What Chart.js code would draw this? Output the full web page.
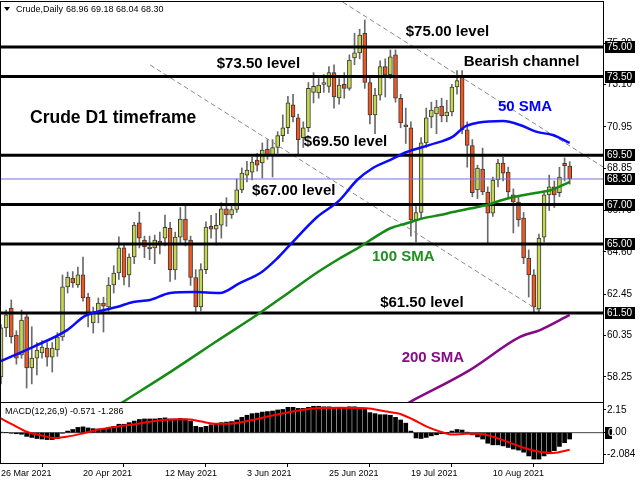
<!DOCTYPE html>
<html>
<head>
<meta charset="utf-8">
<title>Crude, Daily</title>
<script src="https://cdn.jsdelivr.net/npm/chart.js@4.4.0/dist/chart.umd.min.js"></script>
<style>
    html, body { margin: 0; padding: 0; background: #fff; }
    #wrap { position: relative; width: 640px; height: 480px; overflow: hidden; }
    canvas { position: absolute; left: 0; }
    #main { top: 0; }
    #macd { top: 402px; }
</style>
</head>
<body>
<div id="wrap">
    <canvas id="main" width="640" height="403"></canvas>
    <canvas id="macd" width="640" height="78"></canvas>
</div>
<script>
// Bougies journalières (ouverture, plus haut, plus bas, clôture)
const opens = [58.25, 60.74, 61.75, 60.38, 59.37, 61.30, 58.71, 59.21, 59.47, 59.72,
    59.26, 59.62, 60.28, 62.82, 63.27, 62.92, 63.43, 62.31, 60.99, 61.55,
    62.00, 61.80, 62.92, 63.53, 64.80, 63.43, 64.34, 66.07, 65.20, 64.85,
    64.80, 65.15, 65.30, 65.80, 63.68, 65.35, 66.27, 65.20, 63.30, 61.80,
    63.70, 65.90, 65.75, 65.95, 66.78, 66.47, 66.75, 67.75, 68.50, 68.65,
    69.26, 69.11, 69.80, 69.50, 69.90, 70.50, 70.90, 72.06, 71.40, 70.40,
    70.90, 72.70, 72.67, 73.10, 73.00, 73.70, 72.41, 73.10, 72.90, 74.45,
    74.70, 75.70, 73.20, 71.55, 72.56, 74.00, 73.60, 74.60, 72.40, 71.05,
    70.90, 66.22, 66.60, 70.13, 71.45, 71.60, 72.00, 71.50, 71.70, 72.97,
    73.45, 70.80, 70.00, 67.74, 68.80, 67.64, 66.57, 68.25, 69.11, 68.65,
    67.50, 67.13, 66.32, 64.29, 63.43, 61.70, 65.35, 67.49, 67.90, 67.60,
    69.10, 68.96];
const highs = [60.90, 61.65, 62.16, 60.60, 61.65, 61.50, 60.80, 60.00, 60.10, 60.00,
    60.00, 60.50, 63.43, 63.58, 63.60, 63.83, 64.34, 62.50, 61.80, 62.26,
    62.30, 63.30, 63.90, 65.36, 65.00, 64.50, 66.10, 66.62, 65.40, 65.40,
    65.45, 65.60, 66.47, 66.10, 65.60, 66.85, 67.00, 65.40, 63.70, 64.00,
    66.12, 66.45, 66.55, 67.10, 67.35, 67.00, 68.30, 68.86, 69.20, 69.40,
    69.60, 70.13, 70.30, 70.30, 70.70, 71.55, 72.50, 72.60, 71.60, 71.20,
    73.20, 73.70, 73.40, 73.60, 74.00, 74.09, 73.40, 73.70, 74.60, 75.70,
    75.90, 76.37, 73.50, 72.90, 74.30, 74.40, 74.85, 74.85, 72.60, 71.90,
    71.20, 67.00, 70.40, 71.90, 72.20, 72.30, 72.40, 72.30, 73.10, 73.80,
    73.80, 71.20, 70.30, 69.00, 69.87, 67.90, 68.40, 69.30, 69.40, 68.90,
    67.80, 67.40, 66.60, 64.70, 63.70, 65.50, 67.60, 68.50, 68.20, 68.90,
    69.37, 69.18];
const lows = [57.90, 60.30, 59.97, 58.90, 59.20, 57.69, 57.90, 58.35, 59.20, 58.80,
    58.50, 59.30, 60.10, 62.51, 62.80, 62.80, 62.10, 60.79, 60.48, 61.00,
    60.53, 61.60, 62.51, 63.20, 62.92, 62.82, 64.00, 64.80, 64.30, 64.20,
    64.00, 64.50, 64.90, 63.10, 63.20, 65.00, 64.90, 62.90, 61.45, 61.60,
    63.50, 65.30, 64.95, 65.30, 65.90, 66.30, 66.60, 67.60, 68.15, 68.25,
    68.70, 68.35, 69.30, 68.40, 69.60, 70.20, 70.60, 71.20, 69.55, 69.90,
    70.70, 72.16, 72.40, 72.70, 72.70, 71.90, 72.10, 72.40, 72.80, 74.10,
    74.40, 72.90, 71.10, 70.60, 72.30, 72.46, 73.40, 72.20, 70.90, 70.10,
    65.40, 65.10, 66.30, 69.90, 70.90, 70.60, 71.20, 71.20, 71.50, 72.60,
    70.60, 68.90, 67.40, 67.30, 67.50, 65.05, 66.40, 67.90, 68.20, 67.30,
    65.56, 65.90, 64.00, 62.31, 61.50, 61.50, 65.10, 66.70, 66.85, 67.40,
    68.20, 68.04];
const closes = [60.74, 61.40, 60.28, 59.21, 61.14, 58.71, 59.21, 59.62, 59.77, 59.26,
    59.72, 60.28, 62.82, 63.32, 63.02, 63.43, 62.26, 61.40, 61.50, 62.00,
    61.85, 62.92, 63.53, 64.80, 63.32, 64.34, 65.96, 65.30, 64.85, 64.75,
    65.20, 64.95, 65.85, 63.70, 65.35, 66.27, 65.20, 63.30, 61.80, 63.70,
    65.86, 65.75, 65.95, 66.78, 66.47, 66.75, 67.75, 68.60, 68.75, 69.16,
    69.00, 69.77, 69.50, 69.90, 70.50, 70.90, 72.16, 71.45, 70.30, 70.90,
    72.90, 73.00, 73.07, 73.20, 73.70, 72.46, 73.07, 72.90, 74.34, 74.70,
    75.60, 73.20, 71.55, 72.56, 74.00, 73.58, 74.50, 72.40, 71.14, 70.95,
    66.22, 66.60, 70.13, 71.40, 71.80, 71.95, 71.50, 71.70, 72.97, 73.30,
    70.80, 70.00, 67.60, 68.86, 67.64, 66.57, 68.25, 69.11, 68.60, 67.64,
    67.13, 66.22, 64.29, 63.43, 61.80, 65.30, 67.49, 67.90, 67.49, 68.40,
    68.96, 68.30];

// Moyennes mobiles [indice de bougie, prix]
const sma50 = [[0, 59.06], [6.2, 59.77], [12.9, 60.63], [16.4, 61.35], [19.3, 61.6],
    [22.6, 61.8], [25.8, 62.06], [29.1, 62.16], [33, 62.51], [37.5, 62.56],
    [42.7, 62.51], [46.6, 63.02], [50.9, 63.58], [54, 64.29], [56.4, 64.95],
    [61.7, 66.37], [66.1, 67.23], [69.5, 68.25], [72.6, 68.86], [75.9, 69.26],
    [79.2, 69.67], [83.7, 70.03], [88.2, 70.45], [90.5, 70.95], [93, 71.15],
    [98, 71.24], [101.3, 71.04], [104.6, 70.69], [107.7, 70.53], [111, 70.13]];
const sma100 = [[20, 56.35], [23.8, 56.98], [33.6, 58.6], [42, 60.05], [50.5, 61.5],
    [56, 62.5], [61.7, 63.55], [66, 64.25], [70, 64.85], [73, 65.35],
    [76, 65.8], [79.2, 66.05], [82.3, 66.3], [85.7, 66.47], [88.2, 66.62],
    [91.5, 66.8], [94.8, 66.98], [98, 67.25], [101.3, 67.45], [104.6, 67.6],
    [107.5, 67.75], [111, 68.15]];
const sma200 = [[75, 56.3], [79.8, 56.98], [91.5, 58.6], [101.3, 60.28], [105.2, 60.63],
    [111, 61.4]];

// Canal baissier
const channelUpper = [[66.7, 77.28], [117.5, 68.91]];
const channelLower = [[29.1, 74.09], [105.4, 61.55]];

// Niveaux horizontaux et prix courant
const levels = [75.00, 73.50, 69.50, 67.00, 65.00, 61.50];
const bidPrice = 68.30;
const priceTicks = [75.20, 73.10, 70.95, 68.85, 66.70, 64.60, 62.45, 60.35, 58.25];

// MACD(12,26,9)
const macdMain = [0.05, 0.0, -0.05, -0.1, -0.15, -0.35, -0.45, -0.55, -0.6, -0.65,
    -0.65, -0.55, -0.05, 0.15, 0.3, 0.5, 0.55, 0.45, 0.38, 0.35,
    0.35, 0.45, 0.6, 0.8, 0.8, 0.95, 1.1, 1.25, 1.3, 1.3,
    1.3, 1.35, 1.4, 1.3, 1.3, 1.35, 1.3, 1.1, 0.6, 0.5,
    0.6, 0.75, 0.85, 0.95, 1.0, 1.05, 1.2, 1.45, 1.65, 1.8,
    1.85, 1.95, 2.0, 2.05, 2.15, 2.2, 2.4, 2.4, 2.3, 2.3,
    2.4, 2.5, 2.5, 2.45, 2.45, 2.4, 2.4, 2.4, 2.45, 2.45,
    2.4, 2.3, 1.9, 1.8, 1.7, 1.7, 1.65, 1.45, 1.2, 0.9,
    0.15, -0.5, -0.55, -0.45, -0.3, -0.2, -0.1, 0.0, 0.15, 0.3,
    0.25, 0.05, -0.2, -0.4, -0.6, -1.0, -1.15, -1.15, -1.25, -1.4,
    -1.55, -1.65, -1.85, -2.2, -2.5, -2.5, -2.2, -2.0, -1.7, -1.3,
    -0.95, -0.6];
const macdSignal = [[-0.2, 1.4], [2.4, 0.73], [5, 0.09], [7.6, -0.22], [10.2, -0.5],
    [12.8, -0.38], [16.1, -0.06], [19.3, 0.32], [22.6, 0.57], [25.8, 0.78],
    [29.1, 1.04], [32.3, 1.22], [35, 1.28], [36.9, 1.24], [38.8, 1.08],
    [42.1, 0.85], [45.3, 0.88], [48.6, 1.15], [51.8, 1.5], [55.1, 1.83],
    [58.3, 2.12], [62.2, 2.33], [66, 2.36], [71.3, 2.32], [75.2, 2.0],
    [77.8, 1.8], [80.4, 1.25], [83, 0.6], [85.6, 0.12], [88.2, -0.18],
    [90.8, -0.1], [93.4, -0.1], [96, -0.38], [98.6, -0.82], [101.3, -1.3],
    [104.5, -1.75], [107.8, -1.92], [111, -1.62]];
const macdTicks = [2.15, 0, -2.084];
const macdTickLabels = ['2.15', '0.00', '-2.084'];

// Dates de cotation (week-ends et Vendredi saint exclus)
const months = ['Jan', 'Feb', 'Mar', 'Apr', 'May', 'Jun', 'Jul', 'Aug', 'Sep', 'Oct', 'Nov', 'Dec'];
const holidays = ['2021-04-02'];
const dates = [];
for (let d = new Date(Date.UTC(2021, 2, 26)); dates.length < opens.length; d.setUTCDate(d.getUTCDate() + 1)) {
    const wd = d.getUTCDay();
    if (wd === 0 || wd === 6) continue;
    if (holidays.includes(d.toISOString().slice(0, 10))) continue;
    dates.push(d.getUTCDate() + ' ' + months[d.getUTCMonth()] + ' ' + d.getUTCFullYear());
}
const dateTicks = [0, 16, 32, 48, 64, 80, 96];

const FONT = '"Liberation Sans", Arial, sans-serif';
const X_MIN = -0.2, X_MAX = 117.5;
const Y_MIN = 56.98, Y_MAX = 77.284;

const toXY = pts => pts.map(p => ({ x: p[0], y: p[1] }));
const isBull = i => closes[i] >= opens[i];

// Pas de marge automatique autour des axes : la zone de tracé reste fixe
function noAutoPadding(s, size, isX) {
    if (isX) { s.height = size; } else { s.width = size; }
    s.paddingTop = 0;
    s.paddingBottom = 0;
    s.paddingLeft = 0;
    s.paddingRight = 0;
}

function levelLine(v, color, width) {
    return {
        type: 'line',
        data: [{ x: X_MIN - 1, y: v }, { x: X_MAX + 1, y: v }],
        borderColor: color,
        borderWidth: width,
        pointRadius: 0,
        order: 4
    };
}

// Textes posés sur le graphique (indice, prix)
const notes = [
    { text: '$75.00 level', i: 79.0, p: 75.76, color: '#000', size: 15 },
    { text: 'Bearish channel', i: 90.3, p: 74.24, color: '#000', size: 15 },
    { text: '$73.50 level', i: 42.1, p: 74.14, color: '#000', size: 15 },
    { text: 'Crude D1 timeframe', i: 5.66, p: 71.40, color: '#000', size: 17.5 },
    { text: '$69.50 level', i: 59.1, p: 70.18, color: '#000', size: 15 },
    { text: '$67.00 level', i: 49.0, p: 67.69, color: '#000', size: 15 },
    { text: '50 SMA', i: 97.0, p: 71.95, color: '#0000ff', size: 15 },
    { text: '100 SMA', i: 72.4, p: 64.34, color: '#1f8f1f', size: 15 },
    { text: '$61.50 level', i: 74.0, p: 62.00, color: '#000', size: 15 },
    { text: '200 SMA', i: 78.2, p: 59.21, color: '#8b0a8b', size: 15 }
];

const mainOverlay = {
    id: 'mainOverlay',
    afterDraw(chart) {
        const { ctx, chartArea: ca, scales } = chart;
        ctx.save();
        // cadre
        ctx.strokeStyle = '#000';
        ctx.lineWidth = 1;
        ctx.strokeRect(0.5, 1.5, ca.right, ca.bottom - 1);

        // annotations
        ctx.textBaseline = 'middle';
        ctx.textAlign = 'left';
        notes.forEach(n => {
            ctx.font = 'bold ' + n.size + 'px ' + FONT;
            ctx.fillStyle = n.color;
            ctx.fillText(n.text, scales.x.getPixelForValue(n.i), scales.y.getPixelForValue(n.p));
        });

        // étiquettes des niveaux sur l'axe
        ctx.font = '10px ' + FONT;
        levels.concat([bidPrice]).forEach(v => {
            const y = Math.round(scales.y.getPixelForValue(v));
            ctx.fillStyle = '#000';
            ctx.fillRect(ca.right + 2, y - 6, 30, 12);
            ctx.fillStyle = '#fff';
            ctx.fillText(v.toFixed(2), ca.right + 4, y + 0.5);
        });

        // en-tête
        ctx.fillStyle = '#000';
        ctx.beginPath();
        ctx.moveTo(4, 7); ctx.lineTo(10, 7); ctx.lineTo(7, 11); ctx.closePath();
        ctx.fill();
        ctx.font = '9px ' + FONT;
        ctx.fillText('Crude,Daily', 16, 9.5);
        ctx.fillText('68.96 69.18 68.04 68.30', 66, 9.5);
        ctx.restore();
    }
};

new Chart(document.getElementById('main'), {
    type: 'bar',
    data: {
        datasets: [
            {
                label: 'wicks',
                data: dates.map((d, i) => ({ x: i, y: [lows[i], highs[i]] })),
                backgroundColor: '#6a6a6a',
                barThickness: 1,
                grouped: false,
                order: 10
            },
            {
                label: 'bodies',
                data: dates.map((d, i) => ({ x: i, y: [opens[i], closes[i]] })),
                backgroundColor: ctx => isBull(ctx.dataIndex) ? '#c5d84b' : '#f0561e',
                borderColor: '#3a3a3a',
                borderWidth: 1,
                borderSkipped: false,
                barThickness: 4,
                minBarLength: 1,
                grouped: false,
                order: 9
            },
            {
                type: 'line', data: toXY(channelUpper), borderColor: '#8a8a8a',
                borderWidth: 1, borderDash: [5, 3], pointRadius: 0, order: 8
            },
            {
                type: 'line', data: toXY(channelLower), borderColor: '#8a8a8a',
                borderWidth: 1, borderDash: [5, 3], pointRadius: 0, order: 8
            },
            levelLine(bidPrice, '#7373d6', 1),
            ...levels.map(v => levelLine(v, '#000', 3)),
            {
                type: 'line', data: toXY(sma50), borderColor: '#0a0aff', borderWidth: 2.5,
                pointRadius: 0, cubicInterpolationMode: 'monotone', order: 2
            },
            {
                type: 'line', data: toXY(sma100), borderColor: '#158a15', borderWidth: 2.5,
                pointRadius: 0, cubicInterpolationMode: 'monotone', order: 2
            },
            {
                type: 'line', data: toXY(sma200), borderColor: '#860a86', borderWidth: 2.5,
                pointRadius: 0, cubicInterpolationMode: 'monotone', order: 2
            }
        ]
    },
    options: {
        responsive: false,
        animation: false,
        layout: { padding: { top: 2, bottom: 1, left: 0, right: 0 } },
        plugins: { legend: { display: false }, tooltip: { enabled: false } },
        scales: {
            x: { type: 'linear', min: X_MIN, max: X_MAX, offset: false, display: false },
            y: {
                position: 'right',
                min: Y_MIN,
                max: Y_MAX,
                afterFit: s => noAutoPadding(s, 37, false),
                afterBuildTicks: s => { s.ticks = priceTicks.map(v => ({ value: v })); },
                ticks: {
                    callback: v => v.toFixed(2),
                    color: '#000',
                    font: { family: FONT, size: 10 },
                    padding: 1,
                    autoSkip: false
                },
                grid: { drawOnChartArea: false, tickLength: 3, color: '#000' },
                border: { display: true, color: '#000', width: 1 }
            }
        }
    },
    plugins: [mainOverlay]
});

const macdOverlay = {
    id: 'macdOverlay',
    afterDraw(chart) {
        const { ctx, chartArea: ca, scales } = chart;
        ctx.save();
        ctx.strokeStyle = '#000';
        ctx.lineWidth = 1;
        ctx.beginPath();
        ctx.moveTo(0.5, 0); ctx.lineTo(0.5, ca.bottom + 0.5);
        ctx.stroke();

        ctx.fillStyle = '#000';
        ctx.font = '9px ' + FONT;
        ctx.textBaseline = 'middle';
        ctx.textAlign = 'left';
        ctx.fillText('MACD(12,26,9) -0.571 -1.286', 5, 9.5);

        // petite étiquette noire du zéro
        const y0 = Math.round(scales.y.getPixelForValue(0));
        ctx.fillRect(ca.right + 2, y0 - 6, 7, 12);
        ctx.beginPath();
        ctx.rect(ca.right + 2, y0 - 6, 7, 12);
        ctx.clip();
        ctx.fillStyle = '#fff';
        ctx.font = '10px ' + FONT;
        ctx.fillText('0.00', ca.right + 5, y0 + 0.5);
        ctx.restore();
    }
};

new Chart(document.getElementById('macd'), {
    type: 'bar',
    data: {
        datasets: [
            {
                type: 'line',
                data: [{ x: X_MIN - 1, y: 0 }, { x: X_MAX + 1, y: 0 }],
                borderColor: '#444',
                borderWidth: 1,
                pointRadius: 0,
                order: 5
            },
            {
                data: macdMain.map((v, i) => ({ x: i, y: v })),
                backgroundColor: '#000',
                barThickness: 4,
                grouped: false,
                order: 4
            },
            {
                type: 'line',
                data: toXY(macdSignal),
                borderColor: '#ff0000',
                borderWidth: 2,
                pointRadius: 0,
                cubicInterpolationMode: 'monotone',
                order: 1
            }
        ]
    },
    options: {
        responsive: false,
        animation: false,
        layout: { padding: { top: 1, bottom: 0, left: 0, right: 0 } },
        plugins: { legend: { display: false }, tooltip: { enabled: false } },
        scales: {
            x: {
                type: 'linear',
                min: X_MIN,
                max: X_MAX,
                offset: false,
                afterFit: s => noAutoPadding(s, 17, true),
                afterBuildTicks: s => { s.ticks = dateTicks.map(v => ({ value: v })); },
                ticks: {
                    callback: v => dates[v],
                    align: 'start',
                    autoSkip: false,
                    maxRotation: 0,
                    color: '#000',
                    font: { family: FONT, size: 9 },
                    padding: 1
                },
                grid: { drawOnChartArea: false, tickLength: 4, color: '#000' },
                border: { display: true, color: '#000', width: 1 }
            },
            y: {
                position: 'right',
                min: -2.87,
                max: 2.81,
                afterFit: s => noAutoPadding(s, 37, false),
                afterBuildTicks: s => { s.ticks = macdTicks.map(v => ({ value: v })); },
                ticks: {
                    callback: (v, idx) => macdTickLabels[idx],
                    color: '#000',
                    font: { family: FONT, size: 10 },
                    padding: 1,
                    autoSkip: false
                },
                grid: { drawOnChartArea: false, tickLength: 3, color: '#000' },
                border: { display: true, color: '#000', width: 1 }
            }
        }
    },
    plugins: [macdOverlay]
});
</script>
</body>
</html>
